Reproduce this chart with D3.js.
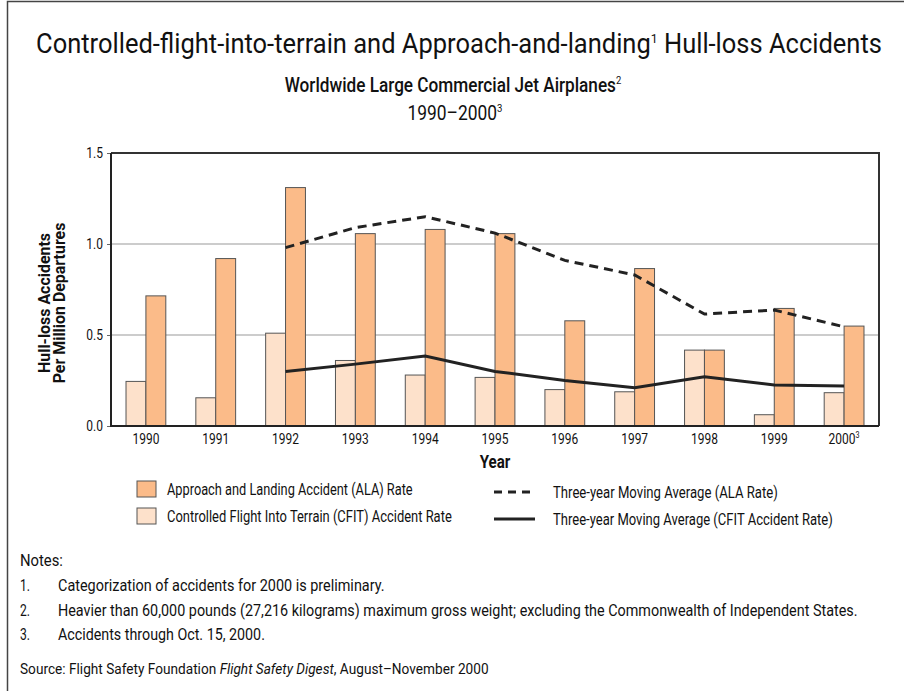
<!DOCTYPE html>
<html>
<head>
<meta charset="utf-8">
<script src="https://cdn.jsdelivr.net/npm/d3@7"></script>
<style>
  body { margin: 0; background: #fff; }
  svg text { font-family: Roboto, "Liberation Sans", sans-serif; fill: #111; }
</style>
</head>
<body>
<div id="chart"></div>
<script>
// data
var years = ["1990", "1991", "1992", "1993", "1994", "1995", "1996", "1997", "1998", "1999", "2000"];
var alaRate = [0.715, 0.92, 1.31, 1.057, 1.08, 1.057, 0.578, 0.865, 0.417, 0.646, 0.549];
var cfitRate = [0.245, 0.155, 0.51, 0.36, 0.28, 0.267, 0.20, 0.188, 0.417, 0.062, 0.183];
var alaAvg = [null, null, 0.98, 1.09, 1.15, 1.06, 0.91, 0.83, 0.615, 0.637, 0.545];
var cfitAvg = [null, null, 0.30, 0.34, 0.385, 0.30, 0.25, 0.21, 0.27, 0.225, 0.22];
var yTicks = [0, 0.5, 1.0, 1.5];
var notes = [
  "Categorization of accidents for 2000 is preliminary.",
  "Heavier than 60,000 pounds (27,216 kilograms) maximum gross weight; excluding the Commonwealth of Independent States.",
  "Accidents through Oct. 15, 2000."
];
var noteWidths = [327, 800, 207];

var width = 904, height = 691;
var margin = {top: 153, right: 25, bottom: 265, left: 111};
var alaColor = "#fbbb89", cfitColor = "#fde1cb";

// condense a text element horizontally around its x anchor
function squeeze(node, k) {
  var x0 = +node.getAttribute("x") || 0;
  d3.select(node).attr("transform", "translate(" + x0 + ",0) scale(" + k + ",1) translate(" + (-x0) + ",0)");
}
function fitWidth(sel, w) {
  sel.each(function(d, i) {
    var bw = this.getBBox().width;
    squeeze(this, (typeof w === "function" ? w(d, i) : w) / bw);
  });
}

var svg = d3.select("#chart").append("svg")
  .attr("width", width).attr("height", height);

svg.append("rect").attr("width", width).attr("height", height).attr("fill", "#fff");

// outer frame (open at right and bottom, as cropped)
svg.append("path")
  .attr("d", "M7.5," + height + "V1.5H" + width)
  .attr("fill", "none").attr("stroke", "#444").attr("stroke-width", 1.5);

// titles
var t1 = svg.append("text").attr("x", 459).attr("y", 53)
  .attr("text-anchor", "middle").style("font-size", "27px");
t1.append("tspan").text("Controlled-flight-into-terrain and Approach-and-landing");
t1.append("tspan").attr("dy", -10).style("font-size", "13px").text("1");
t1.append("tspan").attr("dy", 10).text(" Hull-loss Accidents");
fitWidth(t1, 846);

var t2 = svg.append("text").attr("x", 453).attr("y", 92)
  .attr("text-anchor", "middle").style("font-size", "20px").style("font-weight", "500");
t2.append("tspan").text("Worldwide Large Commercial Jet Airplanes");
t2.append("tspan").attr("dy", -8).style("font-size", "11px").style("font-weight", "normal").text("2");
fitWidth(t2, 337);

var t3 = svg.append("text").attr("x", 455).attr("y", 120)
  .attr("text-anchor", "middle").style("font-size", "20px");
t3.append("tspan").text("1990\u20132000");
t3.append("tspan").attr("dy", -8).style("font-size", "11px").text("3");
fitWidth(t3, 95);

var iw = width - margin.left - margin.right;
var ih = height - margin.top - margin.bottom;
var g = svg.append("g").attr("transform", "translate(" + margin.left + "," + margin.top + ")");

var x = d3.scaleBand().domain(years).range([0, iw]).paddingInner(0.43).paddingOuter(0.215);
var xs = d3.scaleBand().domain(["cfit", "ala"]).range([0, x.bandwidth()]);
var y = d3.scaleLinear().domain([0, 1.5]).range([ih, 0]);

// gridlines
g.selectAll(".grid").data([0.5, 1.0]).enter().append("line")
  .attr("x1", 0).attr("x2", iw)
  .attr("y1", function(d) { return y(d); }).attr("y2", function(d) { return y(d); })
  .attr("stroke", "#999").attr("stroke-width", 1);

// y axis
var yAxis = g.append("g").call(d3.axisLeft(y).tickValues(yTicks).tickFormat(d3.format(".1f")).tickSize(4).tickPadding(4));
yAxis.select(".domain").remove();
yAxis.selectAll("line").attr("stroke", "#666");
yAxis.selectAll("text").style("font-size", "15px").style("font-family", null).attr("fill", "#111")
  .each(function() { squeeze(this, 0.8); });

// bars
var rows = years.map(function(yr, i) { return {year: yr, ala: alaRate[i], cfit: cfitRate[i]}; });
var grp = g.selectAll(".grp").data(rows).enter().append("g")
  .attr("transform", function(d) { return "translate(" + x(d.year) + ",0)"; });
grp.append("rect")
  .attr("x", xs("cfit")).attr("width", xs.bandwidth())
  .attr("y", function(d) { return y(d.cfit); })
  .attr("height", function(d) { return ih - y(d.cfit); })
  .attr("fill", cfitColor).attr("stroke", "#555").attr("stroke-width", 1);
grp.append("rect")
  .attr("x", xs("ala")).attr("width", xs.bandwidth())
  .attr("y", function(d) { return y(d.ala); })
  .attr("height", function(d) { return ih - y(d.ala); })
  .attr("fill", alaColor).attr("stroke", "#555").attr("stroke-width", 1);

// moving averages
var line = d3.line()
  .defined(function(d) { return d.v != null; })
  .x(function(d) { return x(d.year) + x.bandwidth() / 2; })
  .y(function(d) { return y(d.v); });
var alaPts = years.map(function(yr, i) { return {year: yr, v: alaAvg[i]}; });
var cfitPts = years.map(function(yr, i) { return {year: yr, v: cfitAvg[i]}; });
g.append("path").attr("d", line(alaPts))
  .attr("fill", "none").attr("stroke", "#222").attr("stroke-width", 3).attr("stroke-dasharray", "9,6");
g.append("path").attr("d", line(cfitPts))
  .attr("fill", "none").attr("stroke", "#222").attr("stroke-width", 3);

// plot frame
g.append("path").attr("d", "M0,0H" + iw + "V" + ih)
  .attr("fill", "none").attr("stroke", "#333").attr("stroke-width", 2);
g.append("path").attr("d", "M0,0V" + ih + "H" + iw)
  .attr("fill", "none").attr("stroke", "#222").attr("stroke-width", 2);

// x axis labels
var xLab = g.selectAll(".xlab").data(years).enter().append("text")
  .attr("x", function(d) { return x(d) + x.bandwidth() / 2; })
  .attr("y", ih + 18).attr("text-anchor", "middle").style("font-size", "15px");
xLab.append("tspan").text(function(d) { return d; });
xLab.filter(function(d) { return d === "2000"; }).append("tspan")
  .attr("dy", -6).style("font-size", "9px").text("3");
xLab.each(function() { squeeze(this, 0.8); });

var yearT = g.append("text").attr("x", iw / 2).attr("y", ih + 42).attr("text-anchor", "middle")
  .style("font-size", "18px").style("font-weight", "bold").text("Year");
fitWidth(yearT, 31);

// y axis title
var ytg = svg.append("g").attr("transform", "translate(50,303) rotate(-90)");
var yt = ytg.append("text").attr("x", 0)
  .attr("text-anchor", "middle").style("font-size", "17px").style("font-weight", "bold");
yt.append("tspan").attr("x", 0).attr("dy", 0).text("Hull-loss Accidents");
yt.append("tspan").attr("x", 0).attr("dy", 15).text("Per Million Departures");
fitWidth(yt, 161);

// legend
var legL = [
  {label: "Approach and Landing Accident (ALA) Rate", fill: alaColor, w: 246},
  {label: "Controlled Flight Into Terrain (CFIT) Accident Rate", fill: cfitColor, w: 285}
];
var ll = svg.selectAll(".legL").data(legL).enter().append("g")
  .attr("transform", function(d, i) { return "translate(137," + (481 + i * 27) + ")"; });
ll.append("rect").attr("width", 19).attr("height", 16)
  .attr("fill", function(d) { return d.fill; }).attr("stroke", "#555");
fitWidth(ll.append("text").attr("x", 30).attr("y", 14).style("font-size", "16.5px")
  .text(function(d) { return d.label; }), function(d) { return d.w; });

var legR = [
  {label: "Three-year Moving Average (ALA Rate)", dash: "8,6", w: 225},
  {label: "Three-year Moving Average (CFIT Accident Rate)", dash: null, w: 280}
];
var lr = svg.selectAll(".legR").data(legR).enter().append("g")
  .attr("transform", function(d, i) { return "translate(494," + (492 + i * 27) + ")"; });
lr.append("line").attr("x1", 0).attr("x2", 41)
  .attr("stroke", "#222").attr("stroke-width", 3)
  .attr("stroke-dasharray", function(d) { return d.dash; });
fitWidth(lr.append("text").attr("x", 59).attr("y", 6).style("font-size", "16.5px")
  .text(function(d) { return d.label; }), function(d) { return d.w; });

// notes
var nh = svg.append("text").attr("x", 20).attr("y", 566).style("font-size", "16px").text("Notes:");
fitWidth(nh, 43);
var nt = svg.selectAll(".note").data(notes).enter().append("g")
  .attr("transform", function(d, i) { return "translate(20," + (591 + i * 24.5) + ")"; });
fitWidth(nt.append("text").attr("x", 0).style("font-size", "16px").text(function(d, i) { return (i + 1) + "."; }), 10);
fitWidth(nt.append("text").attr("x", 38).style("font-size", "16px").text(function(d) { return d; }),
  function(d, i) { return noteWidths[i]; });

var src = svg.append("text").attr("x", 20).attr("y", 674).style("font-size", "15.5px");
src.append("tspan").text("Source: Flight Safety Foundation ");
src.append("tspan").style("font-style", "italic").text("Flight Safety Digest");
src.append("tspan").text(", August\u2013November 2000");
fitWidth(src, 469);
</script>
</body>
</html>
